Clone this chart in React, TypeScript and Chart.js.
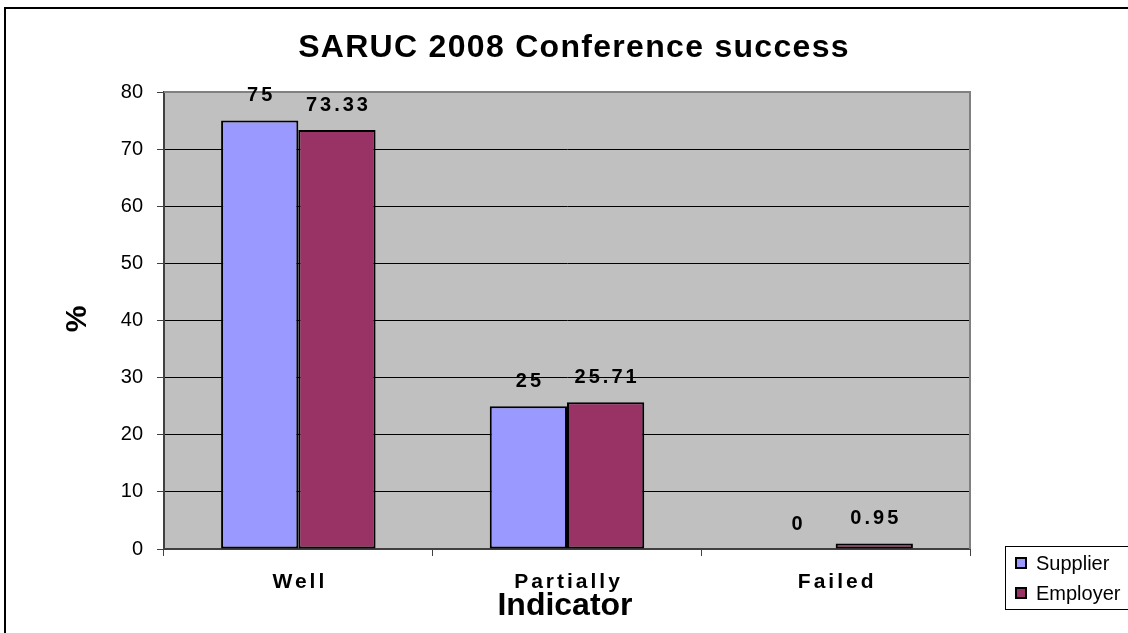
import React, { useEffect, useRef } from "react";
import { Chart, registerables } from "chart.js";

Chart.register(...registerables);

const categories = ["Well", "Partially", "Failed"];
const supplierValues = [75, 25, 0];
const employerValues = [73.33, 25.71, 0.95];
const supplierLabels = ["75", "25", "0"];
const employerLabels = ["73.33", "25.71", "0.95"];
const yTicks = [0, 10, 20, 30, 40, 50, 60, 70, 80];
const seriesNames = ["Supplier", "Employer"];
const seriesColors = ["#9999FF", "#993366"];

const FONT = "'Liberation Sans', Arial, sans-serif";

export default function App() {
  const ref = useRef<HTMLCanvasElement | null>(null);

  useEffect(() => {
    if (!ref.current) return;
    const decor = {
      id: "decor",
      beforeDraw(chart: any) {
        const ctx = chart.ctx;
        const a = chart.chartArea;
        ctx.save();
        ctx.fillStyle = "#ffffff";
        ctx.fillRect(0, 0, chart.width, chart.height);
        ctx.strokeStyle = "#000000";
        ctx.lineWidth = 2;
        ctx.beginPath();
        ctx.moveTo(5, chart.height + 5);
        ctx.lineTo(5, 8);
        ctx.lineTo(chart.width + 5, 8);
        ctx.stroke();
        ctx.fillStyle = "#C0C0C0";
        ctx.fillRect(a.left, a.top, a.right - a.left, a.bottom - a.top);
        ctx.restore();
      },
      afterDraw(chart: any) {
        const ctx = chart.ctx;
        const a = chart.chartArea;
        const xs = chart.scales.x;
        ctx.save();
        ctx.strokeStyle = "#808080";
        ctx.lineWidth = 2;
        ctx.beginPath();
        ctx.moveTo(a.left, a.top);
        ctx.lineTo(a.right, a.top);
        ctx.lineTo(a.right, a.bottom);
        ctx.stroke();

        ctx.fillStyle = "#000";
        ctx.textAlign = "center";
        ctx.textBaseline = "middle";
        ctx.font = `bold 20px ${FONT}`;
        (ctx as any).letterSpacing = "3px";
        const labelSets = [supplierLabels, employerLabels];
        chart.data.datasets.forEach((ds: any, di: number) => {
          const meta = chart.getDatasetMeta(di);
          meta.data.forEach((bar: any, i: number) => {
            ctx.fillText(labelSets[di][i], bar.x + 1.5, bar.y - 25);
          });
        });

        ctx.font = `bold 21px ${FONT}`;
        categories.forEach((c, i) => {
          ctx.fillText(c, xs.getPixelForValue(i) + 1.5, 582);
        });

        ctx.font = `bold 32px ${FONT}`;
        (ctx as any).letterSpacing = "1.3px";
        ctx.fillText("SARUC 2008 Conference success", 574, 48);
        (ctx as any).letterSpacing = "0px";

        ctx.font = `bold 32px ${FONT}`;
        ctx.fillText("Indicator", 565, 606);

        ctx.save();
        ctx.translate(78, 319);
        ctx.rotate(-Math.PI / 2);
        ctx.font = `bold 30px ${FONT}`;
        ctx.fillText("%", 0, 0);
        ctx.restore();

        ctx.strokeStyle = "#000";
        ctx.lineWidth = 1;
        ctx.strokeRect(1005.5, 546.5, 140, 63);
        ctx.font = `20px ${FONT}`;
        ctx.textAlign = "left";
        seriesNames.forEach((n, i) => {
          const y = 563 + i * 30;
          ctx.fillStyle = seriesColors[i];
          ctx.fillRect(1016, y - 5, 10, 10);
          ctx.strokeStyle = "#000";
          ctx.lineWidth = 2;
          ctx.strokeRect(1016, y - 5, 10, 10);
          ctx.fillStyle = "#000";
          ctx.fillText(n, 1036, y + 1);
        });
        ctx.restore();
      },
    };

    const chart = new Chart(ref.current, {
      type: "bar",
      data: {
        labels: categories,
        datasets: [
          {
            label: seriesNames[0],
            data: supplierValues,
            backgroundColor: seriesColors[0],
            borderColor: "#000",
            borderWidth: 2,
            borderSkipped: false,
            categoryPercentage: 0.575,
            barPercentage: 1,
          },
          {
            label: seriesNames[1],
            data: employerValues,
            backgroundColor: seriesColors[1],
            borderColor: "#000",
            borderWidth: 2,
            borderSkipped: false,
            categoryPercentage: 0.575,
            barPercentage: 1,
          },
        ],
      },
      options: {
        responsive: false,
        animation: false,
        devicePixelRatio: 1,
        layout: { padding: { top: 92, right: 158, left: 0, bottom: 0 } },
        plugins: {
          legend: { display: false },
          tooltip: { enabled: false },
          title: { display: false },
        },
        scales: {
          y: {
            min: 0,
            max: 80,
            afterFit: (s: any) => {
              s.width = 164;
            },
            afterBuildTicks: (s: any) => {
              s.ticks = yTicks.map((v) => ({ value: v }));
            },
            ticks: {
              color: "#000",
              font: { family: FONT, size: 20 },
              padding: 14,
            },
            grid: {
              color: "#000",
              tickColor: "#404040",
              tickLength: 7,
              lineWidth: 1,
            },
            border: { color: "#404040", width: 2 },
          },
          x: {
            afterFit: (s: any) => {
              s.height = 84;
            },
            ticks: { display: false },
            grid: {
              offset: true,
              drawOnChartArea: false,
              tickLength: 7,
              color: "#404040",
            },
            border: { color: "#404040", width: 2 },
          },
        },
      },
      plugins: [decor],
    });
    return () => chart.destroy();
  }, []);

  return (
    <div style={{ position: "fixed", left: 0, top: 0, width: 1128, height: 633 }}>
      <canvas ref={ref} width={1128} height={633} />
    </div>
  );
}
